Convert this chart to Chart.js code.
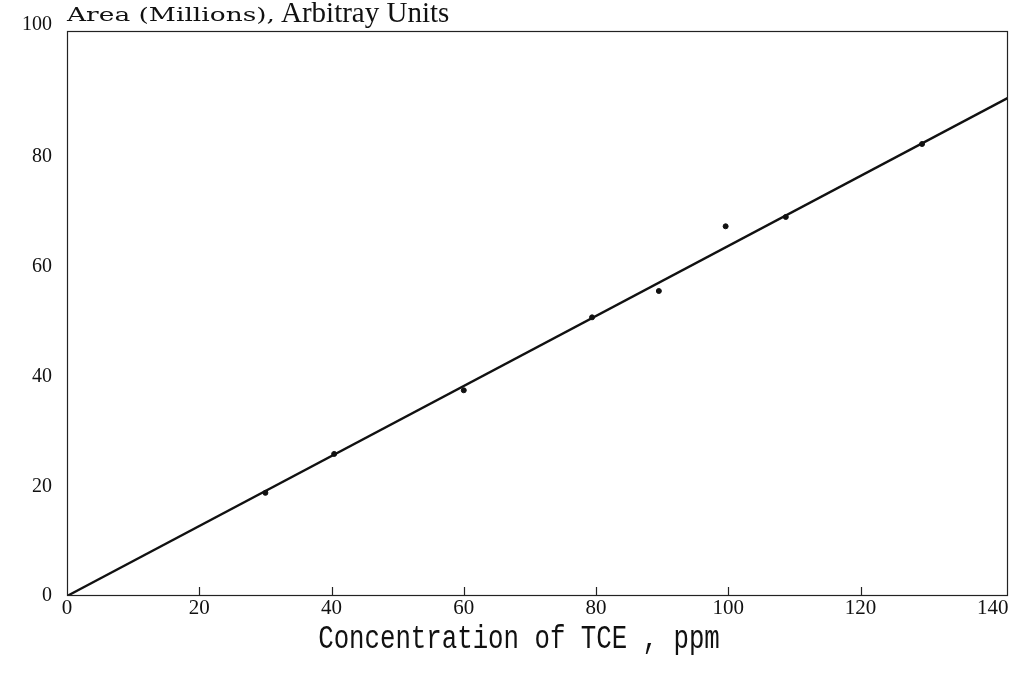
<!DOCTYPE html>
<html>
<head>
<meta charset="utf-8">
<script src="https://cdn.jsdelivr.net/npm/chart.js@4"></script>
<style>
  html, body { margin: 0; padding: 0; background: #fff; }
  #wrap { width: 1009px; height: 676px; }
</style>
</head>
<body>
<div id="wrap"><canvas id="myChart"></canvas></div>
<script>
// measured points (concentration, area)
const concentration = [30, 40.4, 60, 79.4, 89.5, 99.6, 108.7, 129.3];
const area = [18.8, 25.9, 37.5, 50.8, 55.6, 67.4, 69.1, 82.4];

// fitted line, end points
const fitX = [0, 142.3];
const fitY = [0, 90.8];

const xTicks = [0, 20, 40, 60, 80, 100, 120, 140];
// top label sits a little above the frame in the original
const yTicks = [0, 20, 40, 60, 80, 104.2];
const yTickLabels = ['0', '20', '40', '60', '80', '100'];

const ctx = document.getElementById("myChart");

const frame = {
    id: 'frame',
    afterDraw: function (chart) {
        const c = chart.ctx;
        const a = chart.chartArea;
        const xs = chart.scales.x;
        c.save();
        c.strokeStyle = '#222';
        c.lineWidth = 1.2;
        c.strokeRect(a.left + 0.5, a.top + 0.5, a.right - a.left - 1, a.bottom - a.top - 1);
        // small inward ticks on x axis
        xTicks.slice(1, -1).forEach(function (v) {
            const px = Math.round(xs.getPixelForValue(v)) + 0.5;
            c.beginPath();
            c.moveTo(px, a.bottom);
            c.lineTo(px, a.bottom - 9);
            c.stroke();
        });
        // titles
        c.fillStyle = '#111';
        c.textBaseline = 'alphabetic';
        c.textAlign = 'left';
        const part1 = 'Area (Millions),';
        c.font = '19px "DejaVu Serif"';
        const w1 = c.measureText(part1).width;
        c.save();
        c.translate(67, 21);
        c.scale(Math.min(1.5, 208 / w1), 1);
        c.fillText(part1, 0, 0);
        c.restore();
        c.font = '29px "Liberation Serif"';
        c.fillText('Arbitray Units', 281, 22);
        // x axis title, tall and narrow
        c.save();
        c.translate(519, 648);
        c.scale(0.78, 1);
        c.textAlign = 'center';
        c.font = '33px "Liberation Mono"';
        c.fillText('Concentration of TCE , ppm', 0, 0);
        c.restore();
        c.restore();
    }
};

new Chart(ctx, {
    type: 'scatter',
    data: {
        datasets: [
            {
                label: 'fit',
                data: fitX.map(function (x, i) { return { x: x, y: fitY[i] }; }),
                showLine: true,
                borderColor: '#111',
                borderWidth: 2.4,
                pointRadius: 0
            },
            {
                label: 'TCE',
                data: concentration.map(function (x, i) { return { x: x, y: area[i] }; }),
                backgroundColor: '#111',
                borderColor: '#111',
                pointRadius: 2.5,
                pointStyle: 'circle'
            }
        ]
    },
    options: {
        responsive: true,
        maintainAspectRatio: false,
        animation: false,
        layout: { autoPadding: false, padding: { top: 31, right: 1, left: 0, bottom: 0 } },
        plugins: {
            legend: { display: false },
            tooltip: { enabled: false }
        },
        scales: {
            x: {
                type: 'linear',
                min: 0,
                max: 142.3,
                afterBuildTicks: function (scale) {
                    scale.ticks = xTicks.map(function (v) { return { value: v }; });
                },
                afterFit: function (scale) {
                    scale.height = 80;
                    scale.paddingLeft = 0;
                    scale.paddingRight = 0;
                },
                grid: { display: false, drawTicks: false },
                border: { display: false },
                ticks: {
                    padding: 0,
                    maxRotation: 0,
                    color: '#111',
                    font: { family: 'Liberation Serif', size: 21 }
                }
            },
            y: {
                type: 'linear',
                min: 0,
                max: 103,
                afterBuildTicks: function (scale) {
                    scale.ticks = yTicks.map(function (v) { return { value: v }; });
                },
                afterFit: function (scale) {
                    scale.width = 67;
                    scale.paddingTop = 0;
                    scale.paddingBottom = 0;
                },
                grid: { display: false, drawTicks: false },
                border: { display: false },
                ticks: {
                    padding: 15,
                    color: '#111',
                    font: { family: 'Liberation Serif', size: 20 },
                    callback: function (value, index) { return yTickLabels[index]; }
                }
            }
        }
    },
    plugins: [frame]
});
</script>
</body>
</html>
